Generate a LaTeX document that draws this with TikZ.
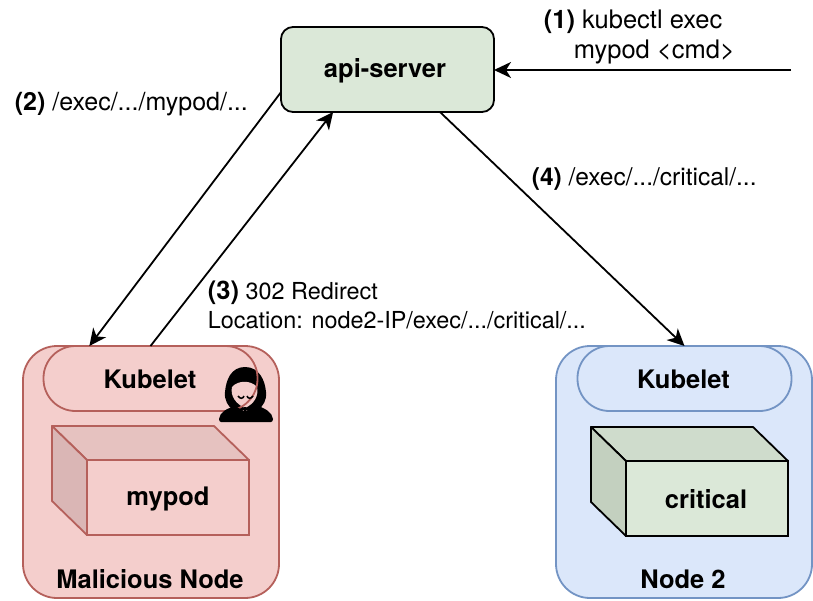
\documentclass[tikz,border=0pt]{standalone}
\usepackage{fontspec}
\setmainfont{TeX Gyre Heros}
\usetikzlibrary{arrows.meta}

\definecolor{redfill}{HTML}{F4CECC}
\definecolor{redline}{HTML}{B5605B}
\definecolor{redtop}{HTML}{E6C2C0}
\definecolor{redside}{HTML}{DAB6B5}
\definecolor{bluefill}{HTML}{DBE7FA}
\definecolor{blueline}{HTML}{7394C4}
\definecolor{greenfill}{HTML}{DBE8D8}
\definecolor{greentop}{HTML}{CFDCCC}
\definecolor{greenside}{HTML}{C3D0BF}

\begin{document}
\begin{tikzpicture}[x=1pt,y=-1pt,line width=1.8pt,
  >={Stealth[length=17pt,width=16pt,inset=5pt]},
  box/.style={rectangle,inner sep=0pt,outer sep=0pt},
  worker/.style={box,rounded corners=34pt,minimum width=256pt,minimum height=252pt},
  pill/.style={box,rounded corners=32pt,minimum width=214pt,minimum height=65pt},
  pod/.style={box,minimum width=162pt,minimum height=75pt},
  title/.style={font=\fontsize{25.5}{30}\selectfont\bfseries,inner sep=0pt},
  step label/.style={anchor=west,inner sep=0pt,font=\fontsize{25.5}{30}\selectfont}]
\useasboundingbox (0,0) rectangle (813,600);

\node[worker,draw=redline,fill=redfill] (malicious) at (151,472) {};
\node[worker,draw=blueline,fill=bluefill] (node2) at (684,472) {};
\node[title] (malname) at (150,579) {Malicious Node};
\node[title] (node2name) at (683,579) {Node 2};

% hood and face go under the kubelet line, shoulders over it
\fill (245,367) .. controls (231,367) and (226,380) .. (225,392) .. controls (224,400) and (228,406) .. (233,410)
  -- (258,410) .. controls (263,406) and (267,400) .. (266,392) .. controls (265,380) and (259,367) .. (245,367) -- cycle;
\fill[redfill] (232,387) .. controls (238,380) and (251,380) .. (257,387) .. controls (259,396) and (254,404) .. (245,408)
  .. controls (236,404) and (230,396) .. (232,387) -- cycle;

\node[pill,draw=redline] (kubelet1) at (150.5,378.5) {};
\node[title] (kubeletname1) at (150,379.5) {Kubelet};
\node[pill,draw=blueline] (kubelet2) at (684.5,378.5) {};
\node[title] (kubeletname2) at (683.5,379.5) {Kubelet};

\fill (219,419) .. controls (220,412) and (226,409) .. (235,406) -- (244,411) -- (244,407) -- (246,407) -- (246,411) -- (256,405)
  .. controls (266,409) and (272,412) .. (273,419) .. controls (273,421) and (272,422) .. (271,422) -- (221,422) .. controls (220,422) and (219,421) .. (219,419) -- cycle;
\draw[line width=1.5pt] (238,396) .. controls (240,399) and (243,399) .. (244,396);
\draw[line width=1.5pt] (247,396) .. controls (248,399) and (251,399) .. (253,396);

\node[pod,draw=redline,fill=redfill] (mypod) at (168,497.5) {};
\node[title] (mypodname) at (168,498.5) {mypod};
\draw[redline,fill=redtop,line join=round] (mypod.north west) -- ++(-35,-34) -- ++(162,0) -- (mypod.north east) -- cycle;
\draw[redline,fill=redside,line join=round] (mypod.north west) -- ++(-35,-34) -- ++(0,75) -- (mypod.south west) -- cycle;

\node[pod,draw=black,fill=greenfill] (critical) at (707,498.5) {};
\node[title] (criticalname) at (706,499.5) {critical};
\draw[fill=greentop,line join=round] (critical.north west) -- ++(-35,-34) -- ++(162,0) -- (critical.north east) -- cycle;
\draw[fill=greenside,line join=round] (critical.north west) -- ++(-35,-34) -- ++(0,75) -- (critical.south west) -- cycle;

\node[box,draw=black,fill=greenfill,rounded corners=12pt,minimum width=213pt,minimum height=85pt] (api) at (387.5,69.5) {};
\node[title] (apiname) at (385,71) {api-server};

\coordinate (kubectl) at (791,70);
\draw[->] (kubectl) -- (api.east |- kubectl);
\draw[->] (api.192) -- (kubelet1.152.5);
\draw[->] (kubelet1.north) -- (api.218);
\draw[->] (api.-39) -- (kubelet2.north);

\node[step label,align=left] (lab1) at (543,36.5) {\textbf{(1)} kubectl exec\\\hspace*{30pt}mypod <cmd>};
\node[step label,font=\fontsize{25}{30}\selectfont] (lab2) at (14,104.5) {\textbf{(2)} /exec/.../mypod/...};
\node[step label,font=\fontsize{23.4}{29}\selectfont,align=left] (lab3) at (207,305) {\textbf{\fontsize{25.5}{29}\selectfont(3)} 302 Redirect\\Location: node2-IP/exec/.../critical/...};
\node[step label,font=\fontsize{24.5}{30}\selectfont] (lab4) at (531,179) {\textbf{(4)} /exec/.../critical/...};
\end{tikzpicture}
\end{document}
